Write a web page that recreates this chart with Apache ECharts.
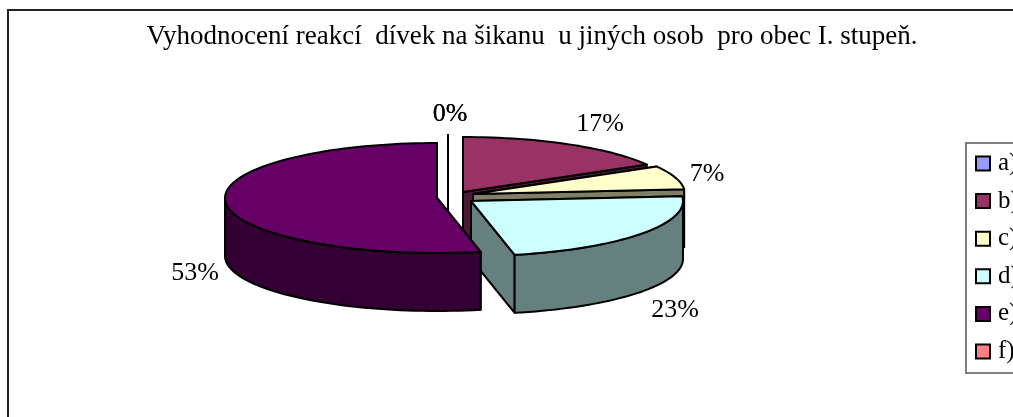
<!DOCTYPE html>
<html>
<head>
<meta charset="utf-8">
<style>
html,body{margin:0;padding:0;background:#fff;}
#pieChart{width:1013px;height:417px;}
</style>
<script src="https://cdn.jsdelivr.net/npm/echarts@6/dist/echarts.min.js"></script>
</head>
<body>
<div id="pieChart"></div>
<script>
var titleText = 'Vyhodnocení reakcí  dívek na šikanu  u jiných osob  pro obec I. stupeň.'
var categories = ['a)', 'b)', 'c)', 'd)', 'e)', 'f)']
var percents = [0, 16.7, 6.9, 23.1, 53.3, 0]

var topColors = ['#9999FF', '#993366', '#FFFFCC', '#CCFFFF', '#660066', '#FF8080']
var sideColors = ['#4D4D80', '#4D1A33', '#808066', '#668080', '#330033', '#804040']
// exploded slices: where each slice's apex ends up on the page
var apexX = [448, 463, 473, 471, 437, 448]
var apexY = [190, 192, 194, 201, 198, 190]
var labelX = [450, 600, 707, 675, 195, 450]
var labelY = [114, 124, 174, 310, 273, 114]
// f) goes to the very back, it is hidden by e)
var drawOrder = [1, 2, 3, 4, 5, 0]

var RX = 212, RY = 55, DEPTH = 58
var FONT = '"Liberation Serif", "Times New Roman", serif'

function rimPoint(i, deg, drop){
    var rad = deg * Math.PI / 180
    return [apexX[i] + RX * Math.sin(rad), apexY[i] - RY * Math.cos(rad) + (drop || 0)]
}

function rimArc(i, from, to, drop){
    var pts = []
    var steps = Math.max(1, Math.ceil(Math.abs(to - from) / 2))
    for(var s = 0; s <= steps; s++){
        pts.push(rimPoint(i, from + (to - from) * s / steps, drop))
    }
    return pts
}

function face(points, color){
    return {
        type: 'polygon',
        shape: { points: points },
        style: { fill: color, stroke: '#000', lineWidth: 2, lineJoin: 'round' }
    }
}

function cutFace(i, deg){
    var a = [apexX[i], apexY[i]]
    return face([a, rimPoint(i, deg), rimPoint(i, deg, DEPTH), [a[0], a[1] + DEPTH]], sideColors[i])
}

function makeRenderItem(i){
    var startValue = percents.slice(0, i).reduce(function(s, v){ return s + v }, 0)
    return function(params, api){
        var start = startValue * 3.6
        var end = (startValue + api.value(0)) * 3.6
        var children = [cutFace(i, start), cutFace(i, end)]
        // the outer wall shows only on the front half of the ellipse
        var wallFrom = Math.max(start, 90), wallTo = Math.min(end, 270)
        if(wallTo > wallFrom){
            var upper = rimArc(i, wallFrom, wallTo)
            var lower = rimArc(i, wallTo, wallFrom, DEPTH)
            children.push(face(upper.concat(lower), sideColors[i]))
        }
        children.push(face([[apexX[i], apexY[i]]].concat(rimArc(i, start, end)), topColors[i]))
        children.push({
            type: 'text',
            z2: 100,
            style: {
                x: labelX[i], y: labelY[i],
                text: Math.round(api.value(0)) + '%',
                fill: '#000',
                font: '26px ' + FONT,
                align: 'center', verticalAlign: 'middle'
            }
        })
        return { type: 'group', children: children }
    }
}

var seriesList = categories.map(function(name, i){
    return {
        name: name,
        type: 'custom',
        coordinateSystem: 'none',
        z: drawOrder[i] + 2,
        silent: true,
        itemStyle: { color: topColors[i] },
        renderItem: makeRenderItem(i),
        data: [[percents[i]]]
    }
})

var myPieChart = echarts.init(document.getElementById('pieChart'), null, { renderer: 'canvas' })
var option = {
    animation: false,
    backgroundColor: '#fff',
    title: {
        text: titleText,
        left: 527,
        top: 18,
        textAlign: 'center',
        textStyle: { fontFamily: FONT, fontSize: 27, fontWeight: 'normal', color: '#000' }
    },
    legend: {
        orient: 'vertical',
        left: 966,
        top: 143,
        padding: [8, 10, 9, 9],
        itemWidth: 14,
        itemHeight: 14,
        itemGap: 12.6,
        icon: 'rect',
        borderColor: '#555',
        borderWidth: 1.5,
        data: categories,
        itemStyle: { borderColor: '#000', borderWidth: 2 },
        textStyle: { fontFamily: FONT, fontSize: 25, lineHeight: 24, color: '#000', padding: [0, 0, 0, 3] }
    },
    graphic: [{
        type: 'polyline',
        z: 0,
        shape: { points: [[8, 417], [8, 10], [1013, 10]] },
        style: { fill: 'none', stroke: '#222', lineWidth: 2 }
    }],
    series: seriesList
}
myPieChart.setOption(option, true)
</script>
</body>
</html>
